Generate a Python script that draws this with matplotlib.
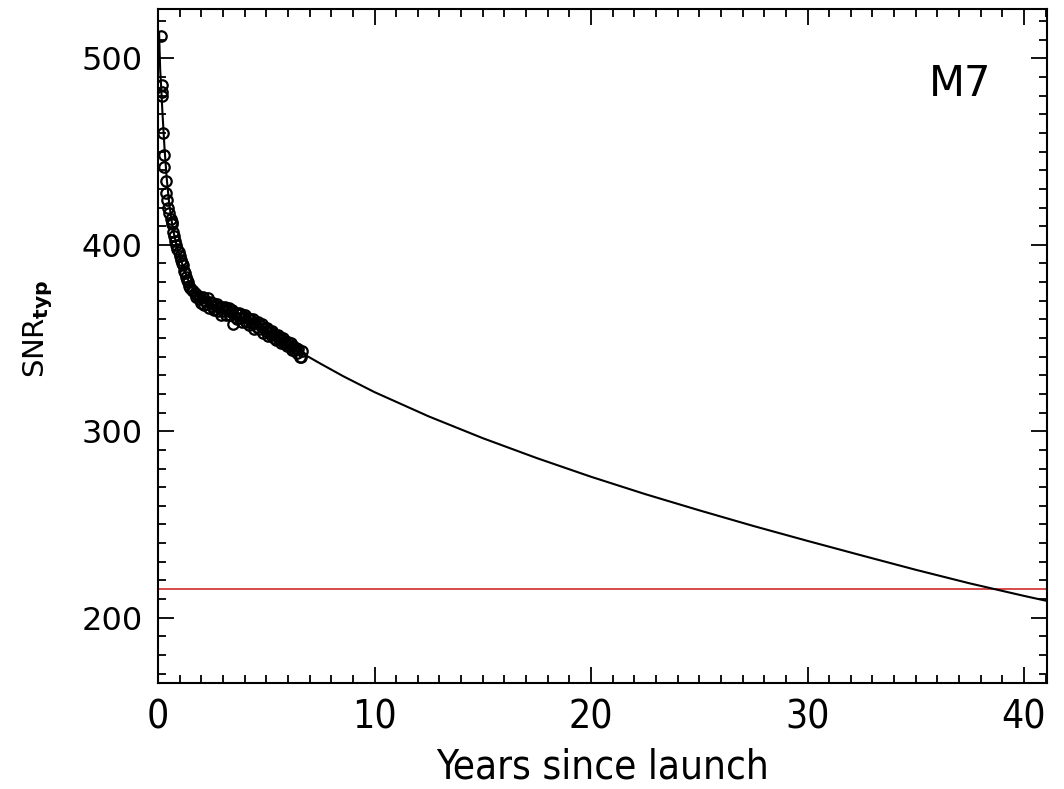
import numpy as np
import matplotlib
matplotlib.use('Agg')
import matplotlib.pyplot as plt
from matplotlib.ticker import MultipleLocator

# measured SNR points (years since launch, SNR_typ)
years_obs = [0.12, 0.17, 0.18, 0.19, 0.22, 0.27, 0.30, 0.35, 0.39, 0.43,
             0.46, 0.52, 0.58, 0.63, 0.66, 0.70, 0.75, 0.80, 0.85, 0.90,
             0.95, 1.00, 1.05, 1.10, 1.15, 1.20, 1.25, 1.30, 1.35, 1.40,
             1.45, 1.50, 1.55, 1.60, 1.70, 1.75, 1.80, 1.90,
             1.95, 2.00, 2.06, 2.12, 2.18, 2.24, 2.30, 2.36, 2.42, 2.48,
             2.54, 2.60, 2.66, 2.72, 2.78, 2.84, 2.90, 2.96, 3.02, 3.08,
             3.14, 3.20, 3.26, 3.32, 3.38, 3.44, 3.48, 3.54, 3.60, 3.66,
             3.72, 3.78, 3.84, 3.90, 3.96, 4.02, 4.08, 4.14, 4.20, 4.26,
             4.32, 4.38, 4.44, 4.50, 4.56, 4.62, 4.68, 4.74, 4.80, 4.86,
             4.92, 4.98, 5.04, 5.10, 5.16, 5.22, 5.28, 5.34, 5.40, 5.46,
             5.52, 5.58, 5.64, 5.70, 5.76, 5.82, 5.88, 5.94, 6.00, 6.06,
             6.12, 6.18, 6.24, 6.30, 6.36, 6.42, 6.48, 6.54, 6.60, 6.66]
snr_obs = [512.0, 486.0, 482.0, 480.0, 460.0, 448.0, 442.0, 434.0, 428.0, 424.0,
           420.0, 417.0, 414.0, 411.0, 412.0, 407.0, 405.0, 402.0, 400.0, 398.0,
           396.0, 394.0, 392.0, 390.0, 389.0, 386.0, 385.0, 383.0, 381.0, 380.0,
           378.0, 377.0, 376.0, 375.0, 374.0, 372.0, 373.0, 371.0,
           371.8, 369.0, 372.2, 367.8, 370.0, 368.2, 371.4, 366.0, 369.2, 367.4,
           369.0, 365.2, 367.4, 368.5, 364.7, 366.9, 362.6, 366.7, 364.4, 366.6,
           362.4, 365.1, 366.3, 362.6, 363.8, 365.0, 357.8, 361.1, 363.3, 360.0,
           363.7, 361.0, 362.7, 358.4, 361.2, 362.4, 358.5, 360.6, 357.2, 360.3,
           357.9, 360.0, 355.1, 358.2, 355.8, 358.5, 354.6, 356.2, 357.3, 352.9,
           355.5, 353.6, 355.2, 351.3, 353.9, 351.5, 354.0, 350.1, 351.7, 348.8,
           351.9, 349.4, 350.5, 347.1, 350.2, 347.3, 348.3, 345.9, 348.0, 346.0,
           347.5, 343.5, 346.0, 343.5, 344.5, 342.0, 344.0, 340.0, 340.0, 343.0]

# fitted degradation curve
years_fit = [0.05, 0.10, 0.15, 0.20, 0.30, 0.40, 0.50, 0.60, 0.70, 0.85,
             1.00, 1.20, 1.40, 1.60, 1.80, 2.00, 2.50, 3.00, 3.50, 4.00,
             4.50, 5.00, 5.50, 6.00, 6.70, 7.50, 8.56, 10.0, 12.5, 15.0,
             17.5, 20.0, 22.5, 25.0, 27.5, 30.0, 32.5, 35.0, 37.5, 40.0, 41.06]
snr_fit = [514.0, 494.0, 484.0, 472.0, 452.0, 436.0, 424.0, 415.0, 408.0, 400.0,
           394.0, 387.0, 381.0, 376.5, 373.0, 370.5, 367.5, 365.0, 362.5, 360.0,
           357.0, 354.0, 350.5, 346.3, 341.6, 336.3, 329.5, 321.0, 308.0, 296.3,
           285.6, 275.6, 266.3, 257.6, 249.2, 241.2, 233.4, 225.7, 218.4, 211.7, 209.0]

snr_threshold = 215.2
panel_label = 'M7'

fig = plt.figure(figsize=(10.64, 7.89), dpi=100)
ax = fig.add_axes([0.1485, 0.1344, 0.8355, 0.8542])

ax.plot(years_fit, snr_fit, color='black', lw=1.5, zorder=3)
ax.plot(years_obs, snr_obs, linestyle='none', marker='o', markersize=7.5,
        markerfacecolor='none', markeredgecolor='black', markeredgewidth=1.6, zorder=4)
ax.axhline(snr_threshold, color='#d43a3a', lw=1.3, zorder=2)

ax.set_xlim(0, 41.06)
ax.set_ylim(165, 526.5)

ax.xaxis.set_major_locator(MultipleLocator(10))
ax.xaxis.set_minor_locator(MultipleLocator(1))
ax.yaxis.set_major_locator(MultipleLocator(100))
ax.yaxis.set_minor_locator(MultipleLocator(10))

ax.tick_params(which='both', direction='in', top=True, right=True, width=1.3, color='black')
ax.tick_params(which='major', length=11.5)
ax.tick_params(which='minor', length=5.5)
ax.tick_params(axis='x', which='major', pad=11)
ax.tick_params(axis='y', which='major', pad=11)
for spine in ax.spines.values():
    spine.set_linewidth(1.5)

for lbl in ax.get_xticklabels():
    lbl.set_family('DejaVu Sans')
    lbl.set_stretch('condensed')
    lbl.set_fontsize(28)
for lbl in ax.get_yticklabels():
    lbl.set_family('DejaVu Sans')
    lbl.set_fontsize(23)

ax.set_xlabel('Years since launch', fontsize=29, family='DejaVu Sans',
              fontstretch='condensed', labelpad=8)
ax.set_ylabel(r'SNR$_{\mathbf{typ}}$', fontsize=21)
ax.yaxis.set_label_coords(-0.116, 0.525)

ax.text(0.902, 0.888, panel_label, transform=ax.transAxes, fontsize=30,
        ha='center', va='center')

fig.savefig('out.png', dpi=100)
